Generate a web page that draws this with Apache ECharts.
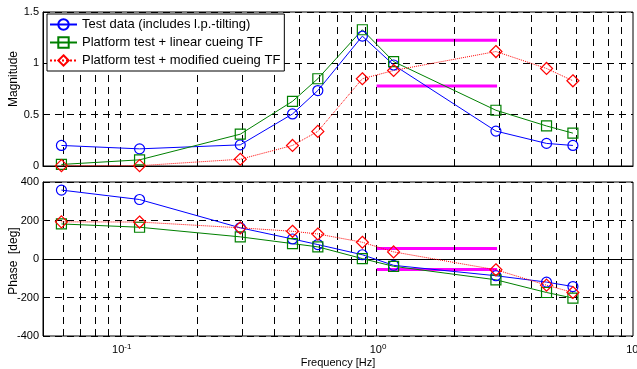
<!DOCTYPE html>
<html>
<head>
<meta charset="utf-8">
<script src="https://cdn.jsdelivr.net/npm/echarts@6/dist/echarts.min.js"></script>
<style>
  html, body { margin: 0; padding: 0; background: #fff; }
  #chart { width: 637px; height: 369px; }
</style>
</head>
<body>
<div id="chart"></div>
<script>
// frequencies of the test points [Hz]
var freqs = [0.059, 0.119, 0.294, 0.47, 0.59, 0.88, 1.165, 2.92, 4.6, 5.83];

// magnitude
var magTest   = [0.20, 0.167, 0.206, 0.507, 0.735, 1.265, 0.984, 0.34, 0.22, 0.20];
var magLinear = [0.015, 0.06, 0.31, 0.63, 0.85, 1.327, 1.017, 0.543, 0.39, 0.32];
var magModif  = [0.003, 0.003, 0.066, 0.20, 0.337, 0.85, 0.93, 1.115, 0.95, 0.83];

// phase [deg]
var phTest   = [358, 309, 162, 104, 75, 22, -33, -87, -120, -143];
var phLinear = [182, 165, 115, 80, 63, 2, -38, -108, -174, -203];
var phModif  = [193, 192, 162, 144, 130, 87, 37, -56, -136, -174];

// magenta bounds (1 .. 3 Hz)
var boundFreqs = [1, 2.95];
var magUpper = 1.225, magLower = 0.78;
var phUpper = 54, phLower = -54;

var names = [
  'Test data (includes l.p.-tilting)',
  'Platform test + linear cueing TF',
  'Platform test + modified cueing TF'
];

var FONT = '"Liberation Sans", Arial, sans-serif';
var dash = [7, 5];

// vertical grid lines (MATLAB style minor grid on a log axis)
var vGrid = [];
[0.01, 0.1, 1].forEach(function (d) {
  for (var k = 1; k <= 9; k++) {
    var v = d * k;
    if (v > 0.051 && v < 9.9) vGrid.push({ xAxis: v });
  }
});

function pairs(xs, ys) {
  return xs.map(function (x, i) { return [x, ys[i]]; });
}

// hollow markers with a thin outline, like MATLAB
function lineSeries(name, gi, xs, ys, color, symbol, size, dotted) {
  return {
    name: name, type: 'line', xAxisIndex: gi, yAxisIndex: gi,
    data: pairs(xs, ys),
    symbol: symbol, symbolSize: size, showSymbol: true,
    lineStyle: { color: color, width: 1, type: dotted ? 'dotted' : 'solid' },
    itemStyle: { color: 'rgba(255,255,255,0)', borderColor: color, borderWidth: 1.2 },
    animation: false, z: 5
  };
}

function boundSeries(gi, y) {
  return {
    type: 'line', xAxisIndex: gi, yAxisIndex: gi,
    data: pairs(boundFreqs, [y, y]),
    symbol: 'none', lineStyle: { color: '#ff00ff', width: 3 },
    animation: false, z: 4
  };
}

function gridSeries(gi) {
  return {
    type: 'line', xAxisIndex: gi, yAxisIndex: gi, data: [],
    markLine: {
      silent: true, symbol: 'none', label: { show: false },
      lineStyle: { color: '#000', width: 1, type: dash },
      data: vGrid
    },
    animation: false, z: 1
  };
}

function xAxisCfg(gi, showLabels) {
  return {
    type: 'log', logBase: 10, gridIndex: gi, min: 0.05, max: 10,
    axisLine: { lineStyle: { color: '#000' } },
    axisTick: { show: false },
    splitLine: { show: false },
    axisLabel: {
      show: showLabels, color: '#000', fontFamily: FONT, margin: 7,
      formatter: function (v) {
        var e = Math.round(Math.log10(v));
        if (Math.abs(Math.log10(v) - e) > 1e-6) return '';
        return '{b|10}{s|' + e + '}';
      },
      rich: {
        b: { fontSize: 11, fontFamily: FONT, color: '#000', padding: [0, 0, 0, 3] },
        s: { fontSize: 8, fontFamily: FONT, color: '#000', verticalAlign: 'top', padding: [0, 0, 6, 0] }
      }
    },
    name: showLabels ? 'Frequency [Hz]' : '',
    nameLocation: 'middle', nameGap: 21,
    nameTextStyle: { fontSize: 11, fontFamily: FONT, color: '#000' }
  };
}

function yAxisCfg(gi, min, max, interval) {
  return {
    type: 'value', gridIndex: gi, min: min, max: max, interval: interval,
    axisLine: { show: true, lineStyle: { color: '#000' } },
    axisTick: { show: true, inside: true, length: 4, lineStyle: { color: '#000' } },
    splitLine: { show: true, lineStyle: { color: '#000', type: dash } },
    axisLabel: { color: '#000', fontSize: 11, fontFamily: FONT, margin: 4 }
  };
}

var chart = echarts.init(document.getElementById('chart'), null, { renderer: 'canvas' });
chart.setOption({
  backgroundColor: '#fff',
  animation: false,
  grid: [
    { left: 43, top: 12, width: 590, height: 154, outerBoundsMode: 'none', show: true, borderColor: '#000', borderWidth: 1, backgroundColor: 'transparent' },
    { left: 43, top: 182, width: 590, height: 154, outerBoundsMode: 'none', show: true, borderColor: '#000', borderWidth: 1, backgroundColor: 'transparent' }
  ],
  legend: {
    data: names, orient: 'vertical', left: 47, top: 14,
    backgroundColor: '#fff', borderColor: '#000', borderWidth: 1,
    padding: [4, 4, 4, 2], itemGap: 5, itemWidth: 27, itemHeight: 13,
    textStyle: { fontSize: 13, fontFamily: FONT, color: '#000' },
    z: 10
  },
  graphic: [
    { type: 'text', rotation: Math.PI / 2, z: 10, position: [14, 79],
      style: { text: 'Magnitude', fontSize: 12, fontFamily: FONT, fill: '#000', align: 'center', verticalAlign: 'middle' } },
    { type: 'text', rotation: Math.PI / 2, z: 10, position: [14, 261],
      style: { text: 'Phase  [deg]', fontSize: 12, fontFamily: FONT, fill: '#000', align: 'center', verticalAlign: 'middle' } }
  ],
  xAxis: [xAxisCfg(0, false), xAxisCfg(1, true)],
  yAxis: [
    yAxisCfg(0, 0, 1.5, 0.5),
    yAxisCfg(1, -400, 400, 200)
  ],
  series: [
    gridSeries(0), gridSeries(1),
    boundSeries(0, magUpper), boundSeries(0, magLower),
    boundSeries(1, phUpper), boundSeries(1, phLower),
    lineSeries(names[0], 0, freqs, magTest, '#0000ff', 'circle', 10, false),
    lineSeries(names[1], 0, freqs, magLinear, '#008000', 'rect', 10, false),
    lineSeries(names[2], 0, freqs, magModif, '#ff0000', 'diamond', 12, true),
    lineSeries(names[0], 1, freqs, phTest, '#0000ff', 'circle', 10, false),
    lineSeries(names[1], 1, freqs, phLinear, '#008000', 'rect', 10, false),
    lineSeries(names[2], 1, freqs, phModif, '#ff0000', 'diamond', 12, true)
  ]
});
</script>
</body>
</html>
